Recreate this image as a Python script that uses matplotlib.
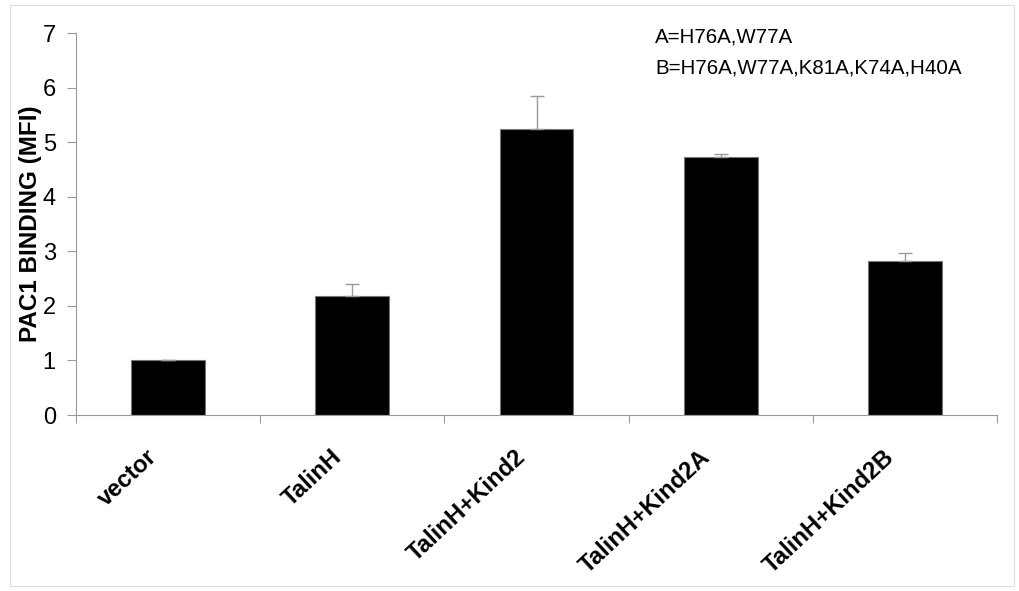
import numpy as np
import matplotlib
matplotlib.use('Agg')
import matplotlib.pyplot as plt
import matplotlib.transforms as mtransforms
from matplotlib.patches import Rectangle

categories = ['vector', 'TalinH', 'TalinH+Kind2', 'TalinH+Kind2A', 'TalinH+Kind2B']
binding = [1.0, 2.18, 5.25, 4.72, 2.82]
err_up = [0.0, 0.22, 0.6, 0.07, 0.14]
notes = ['A=H76A,W77A', 'B=H76A,W77A,K81A,K74A,H40A']

plt.rcParams['font.family'] = ['Liberation Sans', 'DejaVu Sans']
axis_grey = '#9a9a9a'

fig = plt.figure(figsize=(10.19, 5.91), dpi=100)
ax = fig.add_axes([76 / 1019, 1 - 415 / 591, 921 / 1019, 382 / 591])

x = np.arange(len(categories))
ax.bar(x, binding, width=0.4, color='black', edgecolor='#777777', linewidth=0.8, zorder=2)
ax.errorbar(x, binding, yerr=[np.zeros(len(err_up)), err_up], fmt='none',
            ecolor=axis_grey, elinewidth=1.0, capsize=5, capthick=1.0, zorder=3)

ax.set_xlim(-0.5, len(categories) - 0.5)
ax.set_ylim(0, 7)
ax.set_yticks(range(8))
ax.tick_params(axis='y', direction='out', length=6.5, width=0.8, color=axis_grey,
               labelsize=17, pad=8)

ax.set_xticks(x)
ax.set_xticklabels(categories, rotation=43, ha='right', va='top', rotation_mode='anchor',
                   fontsize=17.2, fontweight='bold')
ax.tick_params(axis='x', which='major', length=0, pad=27)
ax.set_xticks(np.arange(-0.5, len(categories)), minor=True)
ax.tick_params(axis='x', which='minor', direction='out', length=6, width=0.8, color=axis_grey)

# nudge the slanted labels left/up like the original
shift = mtransforms.ScaledTranslation(-22 / 100, 7 / 100, fig.dpi_scale_trans)
for lbl in ax.get_xticklabels():
    lbl.set_transform(lbl.get_transform() + shift)

for side in ['top', 'right']:
    ax.spines[side].set_visible(False)
for side in ['left', 'bottom']:
    ax.spines[side].set_color(axis_grey)
    ax.spines[side].set_linewidth(0.8)

ax.set_ylabel('PAC1 BINDING (MFI)', fontsize=17.5, fontweight='bold')
ax.yaxis.set_label_coords(-0.037, 0.5)

fig.text(655 / 1019, 1 - 37 / 591, notes[0], fontsize=14.8, va='center')
fig.text(655 / 1019, 1 - 68 / 591, notes[1], fontsize=14.8, va='center')

fig.patches.append(Rectangle((10 / 1019, 5 / 591), 1004 / 1019, 581 / 591,
                             transform=fig.transFigure, fill=False,
                             edgecolor='#dddddd', linewidth=0.8))

fig.savefig('out.png', dpi=100)
